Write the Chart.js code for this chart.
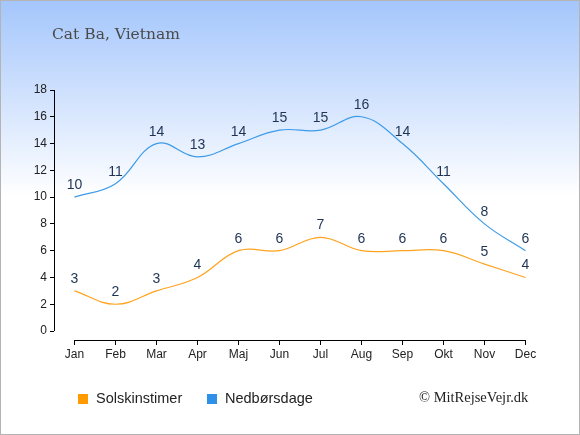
<!DOCTYPE html>
<html>
<head>
<meta charset="utf-8">
<script src="https://cdn.jsdelivr.net/npm/chart.js@4"></script>
<style>
  html, body { margin: 0; padding: 0; background: #fff; }
  #wrap {
    position: relative;
    width: 580px; height: 435px;
    box-sizing: border-box;
    border: 1px solid #b4b4b4;
    background: linear-gradient(to bottom, #a4c6fc 0px, #ffffff 195px, #ffffff 435px);
  }
  #chart { position: absolute; left: -1px; top: -1px; }
</style>
</head>
<body>
<div id="wrap"><canvas id="chart" width="580" height="435"></canvas></div>
<script>
var months = ["Jan", "Feb", "Mar", "Apr", "Maj", "Jun", "Jul", "Aug", "Sep", "Okt", "Nov", "Dec"];
var sunHours = [3, 2, 3, 4, 6, 6, 7, 6, 6, 6, 5, 4];
var rainDays = [10, 11, 14, 13, 14, 15, 15, 16, 14, 11, 8, 6];
var yTicks = [0, 2, 4, 6, 8, 10, 12, 14, 16, 18];

var sunColor = '#ffa31f';
var rainColor = '#3d9be9';

// axis lines only between first/last tick, like the original
var axisLines = {
    id: 'axisLines',
    afterDraw: function (chart) {
        var ctx = chart.ctx;
        var x = chart.scales.x, y = chart.scales.y;
        var area = chart.chartArea;
        ctx.save();
        ctx.strokeStyle = '#000';
        ctx.lineWidth = 1;
        ctx.beginPath();
        ctx.moveTo(Math.round(area.left) + 0.5, y.getPixelForValue(yTicks[yTicks.length - 1]));
        ctx.lineTo(Math.round(area.left) + 0.5, y.getPixelForValue(0));
        ctx.moveTo(x.getPixelForValue(0), Math.round(area.bottom) + 0.5);
        ctx.lineTo(x.getPixelForValue(months.length - 1), Math.round(area.bottom) + 0.5);
        ctx.stroke();
        ctx.restore();
    }
};

// value labels above each point
var pointLabels = {
    id: 'pointLabels',
    afterDatasetsDraw: function (chart) {
        var ctx = chart.ctx;
        ctx.save();
        ctx.font = '14px "Liberation Sans", Arial, sans-serif';
        ctx.fillStyle = '#1f3355';
        ctx.textAlign = 'center';
        ctx.textBaseline = 'alphabetic';
        chart.data.datasets.forEach(function (ds, i) {
            chart.getDatasetMeta(i).data.forEach(function (pt, j) {
                ctx.fillText(String(ds.data[j]), pt.x, pt.y - 8);
            });
        });
        ctx.restore();
    }
};

// title, legend and credit
var extras = {
    id: 'extras',
    afterDraw: function (chart) {
        var ctx = chart.ctx;
        ctx.save();
        ctx.fillStyle = '#4a4a4a';
        ctx.font = '15.5px "DejaVu Serif", serif';
        ctx.textBaseline = 'alphabetic';
        ctx.fillText('Cat Ba, Vietnam', 52, 39);

        var lx = [78, 207];
        ctx.font = '14.5px "Liberation Sans", Arial, sans-serif';
        ctx.textBaseline = 'middle';
        chart.data.datasets.forEach(function (ds, i) {
            ctx.fillStyle = ds.backgroundColor;
            ctx.fillRect(lx[i], 394, 10, 10);
            ctx.fillStyle = '#222';
            ctx.fillText(ds.label, lx[i] + 18, 399);
        });

        ctx.font = '14.5px "Liberation Serif", serif';
        ctx.fillStyle = '#222';
        ctx.fillText('\u00a9 MitRejseVejr.dk', 419, 398);
        ctx.restore();
    }
};

var ctx = document.getElementById('chart');
new Chart(ctx, {
    type: 'line',
    data: {
        labels: months,
        datasets: [{
            label: 'Solskinstimer',
            data: sunHours,
            borderColor: sunColor,
            backgroundColor: '#ff9a00',
            borderWidth: 1.2,
            pointRadius: 0,
            tension: 0.4,
            fill: false
        }, {
            label: 'Nedbørsdage',
            data: rainDays,
            borderColor: rainColor,
            backgroundColor: '#2e90e6',
            borderWidth: 1.2,
            pointRadius: 0,
            tension: 0.4,
            fill: false
        }]
    },
    options: {
        responsive: false,
        animation: false,
        layout: { padding: { top: 90, right: 34, bottom: 0, left: 0 } },
        plugins: {
            legend: { display: false },
            title: { display: false },
            tooltip: { enabled: false }
        },
        scales: {
            x: {
                offset: true,
                border: { display: false },
                grid: { offset: false, drawOnChartArea: false, drawTicks: true, tickLength: 5, color: '#000' },
                ticks: { color: '#222', padding: 2, font: { family: '"Liberation Sans", Arial, sans-serif', size: 12 } },
                afterFit: function (scale) { scale.height = 95; }
            },
            y: {
                min: -0.67,
                max: 18,
                border: { display: false },
                grid: { drawOnChartArea: false, drawTicks: true, tickLength: 4, color: '#000' },
                ticks: { color: '#222', padding: 3, font: { family: '"Liberation Sans", Arial, sans-serif', size: 12 } },
                afterBuildTicks: function (scale) {
                    scale.ticks = yTicks.map(function (v) { return { value: v }; });
                },
                afterFit: function (scale) { scale.width = 54; }
            }
        }
    },
    plugins: [axisLines, pointLabels, extras]
});
</script>
</body>
</html>
